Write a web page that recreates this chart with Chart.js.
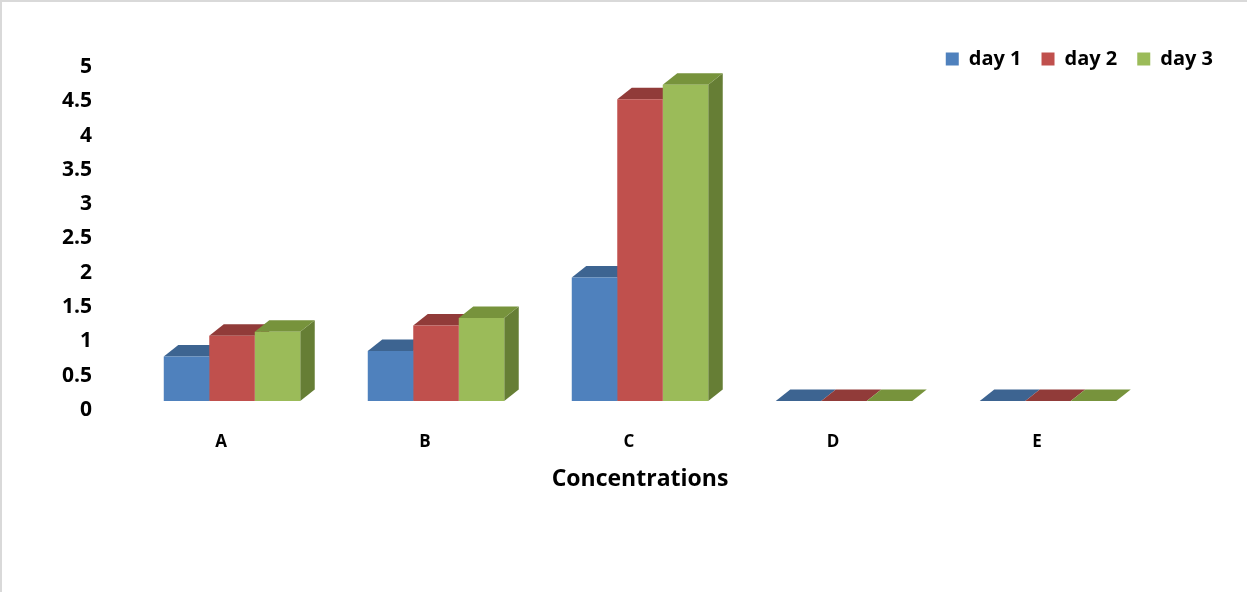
<!DOCTYPE html>
<html>
<head>
<meta charset="utf-8">
<script src="https://cdn.jsdelivr.net/npm/chart.js@4.4.0/dist/chart.umd.min.js"></script>
<style>
  html, body { margin: 0; padding: 0; background: #fff; }
  #wrap { position: relative; width: 1247px; height: 592px; }
  #frame { position: absolute; left: 0; top: 0; right: 0; bottom: 0; border-top: 2px solid #d9d9d9; border-left: 2px solid #d9d9d9; pointer-events: none; }
</style>
</head>
<body>
<div id="wrap">
  <canvas id="chart" width="1247" height="592"></canvas>
  <div id="frame"></div>
</div>
<script>
// data
const categories = ['A', 'B', 'C', 'D', 'E'];
const seriesNames = ['day 1', 'day 2', 'day 3'];
const day1 = [0.65, 0.73, 1.80, 0, 0];
const day2 = [0.95, 1.10, 4.40, 0, 0];
const day3 = [1.01, 1.21, 4.61, 0, 0];
const yMin = 0, yMax = 5, yStep = 0.5;

// excel-ish 3d colours: front / top / side
const fronts = ['#4f81bd', '#c0504d', '#9bbb59'];
const tops = ['#3d6491', '#913b39', '#77933c'];
const sides = ['#355780', '#7f3331', '#667e35'];

const DX = 14.5, DY = 11.5;
const font = (size) => ({ family: '"Open Sans", Lato, sans-serif', weight: 'bold', size });

// draws the top and side faces behind the front faces chart.js paints
const bar3d = {
  id: 'bar3d',
  beforeDatasetsDraw(chart) {
    const ctx = chart.ctx;
    ctx.save();
    chart.data.datasets.forEach((ds, i) => {
      chart.getDatasetMeta(i).data.forEach(bar => {
        const l = bar.x - bar.width / 2, r = bar.x + bar.width / 2;
        const t = bar.y, b = bar.base;
        ctx.fillStyle = sides[i];
        ctx.beginPath();
        ctx.moveTo(r, t); ctx.lineTo(r + DX, t - DY);
        ctx.lineTo(r + DX, b - DY); ctx.lineTo(r, b);
        ctx.closePath(); ctx.fill();
        ctx.fillStyle = tops[i];
        ctx.beginPath();
        ctx.moveTo(l, t); ctx.lineTo(l + DX, t - DY);
        ctx.lineTo(r + DX, t - DY); ctx.lineTo(r, t);
        ctx.closePath(); ctx.fill();
      });
    });
    ctx.restore();
  }
};

// legend sits partly beside the plot top, so let it draw past its layout box
const legendRoom = {
  id: 'legendRoom',
  afterLayout(chart) {
    const lg = chart.legend;
    lg.height = 60;
    lg.bottom = lg.top + 60;
  }
};

const series = [day1, day2, day3];

new Chart(document.getElementById('chart'), {
  type: 'bar',
  data: {
    labels: categories,
    datasets: series.map((values, i) => ({
      label: seriesNames[i],
      data: values,
      backgroundColor: fronts[i],
      borderWidth: 0,
      barPercentage: 1,
      categoryPercentage: 0.669
    }))
  },
  plugins: [bar3d, legendRoom],
  options: {
    responsive: false,
    animation: false,
    layout: { padding: { top: 29, right: 14, bottom: 0, left: 0 } },
    plugins: {
      legend: {
        position: 'top',
        align: 'end',
        maxHeight: 29,
        labels: { boxWidth: 13, boxHeight: 13, padding: 20, color: '#000', font: font(20) }
      },
      tooltip: { enabled: false }
    },
    scales: {
      x: {
        grid: { display: false, drawTicks: false },
        border: { display: false },
        ticks: { padding: 31, labelOffset: -11, color: '#000', font: font(17) },
        title: { display: true, text: 'Concentrations', color: '#000', font: font(23), padding: { top: 0, bottom: 99 } },
        afterFit(s) { s.height = 191; }
      },
      y: {
        min: yMin, max: yMax,
        grid: { display: false, drawTicks: false },
        border: { display: false },
        ticks: { stepSize: yStep, padding: 38, labelOffset: 9, color: '#000', font: font(21), callback: v => String(v) },
        afterFit(s) { s.width = 130; }
      },
      y2: {
        position: 'right',
        grid: { display: false, drawTicks: false },
        border: { display: false },
        ticks: { display: false },
        afterFit(s) { s.width = 83; }
      }
    }
  }
});
</script>
</body>
</html>
